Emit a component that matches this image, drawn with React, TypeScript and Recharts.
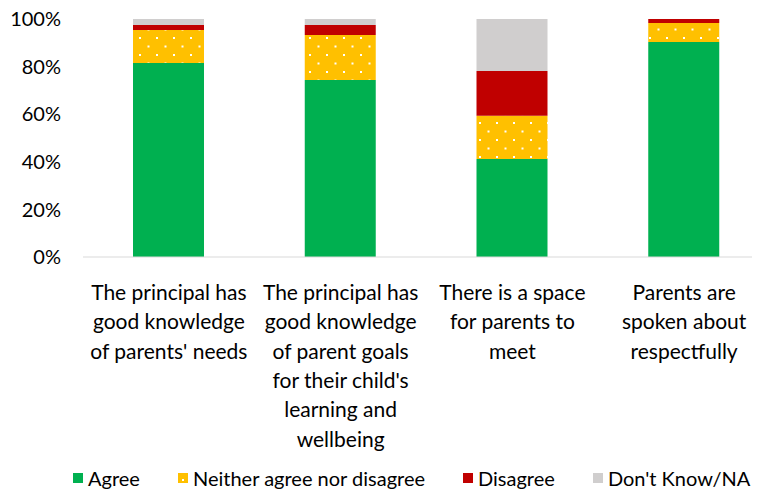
import { BarChart, Bar, XAxis, YAxis, Legend } from 'recharts';

const categories = [
  'The principal has good knowledge of parents\' needs',
  'The principal has good knowledge of parent goals for their child\'s learning and wellbeing',
  'There is a space for parents to meet',
  'Parents are spoken about respectfully',
];

// how each category label breaks into lines
const categoryLines = [
  ['The principal has', 'good knowledge', 'of parents\' needs'],
  ['The principal has', 'good knowledge', 'of parent goals', 'for their child\'s', 'learning and', 'wellbeing'],
  ['There is a space', 'for parents to', 'meet'],
  ['Parents are', 'spoken about', 'respectfully'],
];

const agree = [81.5, 74.4, 41.2, 90.3];
const neither = [13.9, 18.9, 18.1, 8.0];
const disagree = [2.1, 4.2, 18.9, 1.7];
const dontKnow = [2.5, 2.5, 21.8, 0];

const yTicks = [0, 20, 40, 60, 80, 100];

const series = [
  { key: 'agree', name: 'Agree', fill: '#00B050' },
  { key: 'neither', name: 'Neither agree nor disagree', fill: 'url(#dots)' },
  { key: 'disagree', name: 'Disagree', fill: '#C00000' },
  { key: 'dontKnow', name: "Don't Know/NA", fill: '#D0CECE' },
];

const data = categories.map((c, i) => ({
  name: c,
  agree: agree[i],
  neither: neither[i],
  disagree: disagree[i],
  dontKnow: dontKnow[i],
}));

const FONT = 'Lato, "Open Sans", sans-serif';

function CategoryTick(props: any) {
  const { x, y, index } = props;
  const lines = categoryLines[index] || [];
  return (
    <text x={x} y={y} textAnchor="middle" fill="#000" fontSize={21} fontFamily={FONT}>
      {lines.map((l, i) => (
        <tspan key={i} x={x} y={y + 35 + i * 29.3}>
          {l}
        </tspan>
      ))}
    </text>
  );
}

function LegendContent() {
  return (
    <div
      style={{
        display: 'flex',
        alignItems: 'center',
        gap: 38,
        fontFamily: FONT,
        fontSize: 20,
        color: '#000',
        paddingLeft: 73,
        height: 24,
        lineHeight: '24px',
      }}
    >
      {series.map((s) => (
        <div key={s.key} style={{ display: 'flex', alignItems: 'center', gap: 5 }}>
          <svg width={10} height={10} style={{ display: 'block' }}>
            <rect width={10} height={10} fill={s.key === 'neither' ? 'url(#dotsLegend)' : s.fill} />
          </svg>
          <span>{s.name}</span>
        </div>
      ))}
    </div>
  );
}

export default function App() {
  return (
    <div style={{ marginTop: -8, marginLeft: -8, marginRight: -8, width: 760, height: 491, overflow: 'hidden', position: 'relative' }}>
      <svg width={0} height={0} style={{ position: 'absolute' }}>
        <defs>
          <pattern id="dotsLegend" width={8} height={8} patternUnits="userSpaceOnUse">
            <rect width={8} height={8} fill="#FFC000" />
            <rect x={4} y={6} width={2} height={2} fill="#fff" />
          </pattern>
        </defs>
      </svg>
      <BarChart
        width={770}
        height={491}
        data={data}
        margin={{ top: 19, right: 0, bottom: 0, left: 0 }}
        barSize={71}
      >
        <defs>
          <pattern id="dots" width={17} height={17} patternUnits="userSpaceOnUse">
            <rect width={17} height={17} fill="#FFC000" />
            <rect x={3} y={3} width={2} height={2} fill="#fff" />
            <rect x={11.5} y={11.5} width={2} height={2} fill="#fff" />
          </pattern>
        </defs>
        <XAxis
          dataKey="name"
          height={210}
          tickLine={false}
          axisLine={{ stroke: '#D9D9D9' }}
          interval={0}
          tick={<CategoryTick />}
        />
        <YAxis
          width={83}
          domain={[0, 100]}
          ticks={yTicks}
          tickFormatter={(v) => `${v}%`}
          axisLine={false}
          tickLine={false}
          tickSize={0}
          tickMargin={22}
          tick={{ fill: '#000', fontSize: 20, fontFamily: FONT }}
        />
        {series.map((s) => (
          <Bar
            key={s.key}
            dataKey={s.key}
            name={s.name}
            stackId="a"
            fill={s.fill}
            isAnimationActive={false}
          />
        ))}
        <Legend
          verticalAlign="bottom"
          height={24}
          wrapperStyle={{ top: 466, bottom: 'auto', left: 0, width: 760 }}
          content={<LegendContent />}
        />
      </BarChart>
    </div>
  );
}
